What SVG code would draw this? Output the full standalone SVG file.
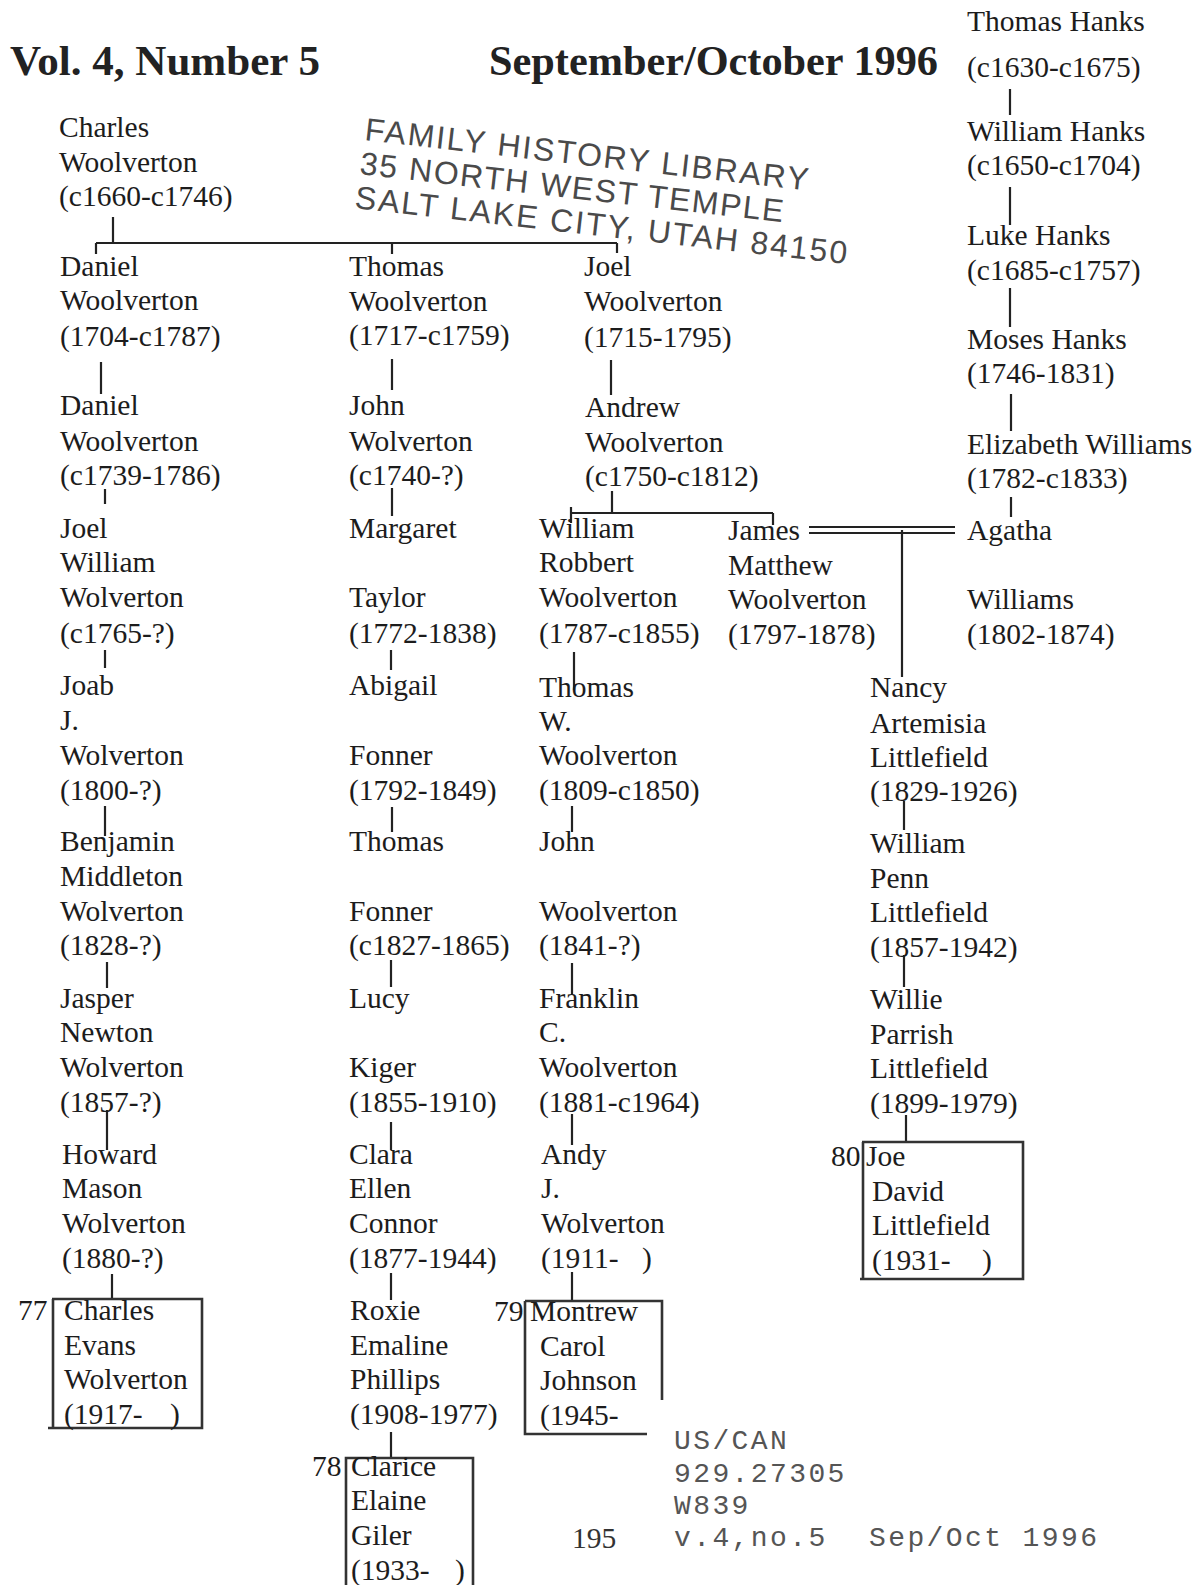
<svg xmlns="http://www.w3.org/2000/svg" width="1198" height="1585" viewBox="0 0 1198 1585">
<style>
.t{font-family:"Liberation Serif","Times New Roman",serif;font-size:29.5px;fill:#1c1c1c}
.h{font-family:"Liberation Serif","Times New Roman",serif;font-size:42px;font-weight:bold;fill:#222}
.m{font-family:"Liberation Mono","Courier New",monospace;font-size:28px;letter-spacing:2.4px;fill:#555}
.s{font-family:"Liberation Sans",Arial,sans-serif;font-size:32px;fill:#4a4a4a}
.c{stroke:#222;stroke-width:2.2;fill:none}
.b{stroke:#333;stroke-width:2.6;fill:none}
</style>
<rect width="1198" height="1585" fill="#fff"/>
<g id="header">
<text class="h" x="10" y="75" textLength="310" lengthAdjust="spacingAndGlyphs">Vol. 4, Number 5</text>
<text class="h" x="489" y="75" textLength="449" lengthAdjust="spacingAndGlyphs">September/October 1996</text>
</g>
<g id="stamp">
<text class="s" x="364" y="140" transform="rotate(6.5 364 140)" textLength="446" lengthAdjust="spacing">FAMILY HISTORY LIBRARY</text>
<text class="s" x="359" y="174" transform="rotate(6.5 359 174)" textLength="426" lengthAdjust="spacing">35 NORTH WEST TEMPLE</text>
<text class="s" x="354" y="208" transform="rotate(6.5 354 208)" textLength="495" lengthAdjust="spacing">SALT LAKE CITY, UTAH 84150</text>
</g>
<g id="connectors">
<path class="c" d="M113 217V243M96 243H617M96 243V254M392 243V254M617 243V253"/>
<path class="c" d="M101 362V394M105 489V504M105 650V668M105 806V836M107 962V988M107 1110V1150M112 1274V1300"/>
<path class="c" d="M392 359V390M392 488V516M391 650V670M392 807V832M391 960V987M391 1122V1150M391 1273V1300M391 1432V1458"/>
<path class="c" d="M611 360V395M612 491V513M571 513H773M571 507V523M773 513V525"/>
<path class="c" d="M574 652V690M572 806V832M572 963V994M572 1114V1145M572 1272V1302"/>
<path class="c" stroke-width="1.6" d="M809 527H955M809 533H955"/>
<path class="c" d="M902 530V677M1011 497V517M1010 89V115M1010 187V225M1010 288V327M1011 394V431"/>
<path class="c" d="M904 801V830M904 955V987M906 1115V1143"/>
</g>
<g id="n-thomas-hanks"><text class="t" x="967" y="31">Thomas Hanks</text><text class="t" x="967" y="77">(c1630-c1675)</text></g>
<g id="n-william-hanks"><text class="t" x="967" y="141">William Hanks</text><text class="t" x="967" y="175">(c1650-c1704)</text></g>
<g id="n-luke-hanks"><text class="t" x="967" y="245">Luke Hanks</text><text class="t" x="967" y="280">(c1685-c1757)</text></g>
<g id="n-moses-hanks"><text class="t" x="967" y="349">Moses Hanks</text><text class="t" x="967" y="383">(1746-1831)</text></g>
<g id="n-elizabeth-williams"><text class="t" x="967" y="454">Elizabeth Williams</text><text class="t" x="967" y="488">(1782-c1833)</text></g>
<g id="n-charles"><text class="t" x="59" y="137">Charles</text><text class="t" x="59" y="172">Woolverton</text><text class="t" x="59" y="206">(c1660-c1746)</text></g>
<g id="n-daniel1"><text class="t" x="60" y="276">Daniel</text><text class="t" x="60" y="310">Woolverton</text><text class="t" x="60" y="346">(1704-c1787)</text></g>
<g id="n-thomas1"><text class="t" x="349" y="276">Thomas</text><text class="t" x="349" y="311">Woolverton</text><text class="t" x="349" y="345">(1717-c1759)</text></g>
<g id="n-joel1"><text class="t" x="584" y="276">Joel</text><text class="t" x="584" y="311">Woolverton</text><text class="t" x="584" y="347">(1715-1795)</text></g>
<g id="n-daniel2"><text class="t" x="60" y="415">Daniel</text><text class="t" x="60" y="451">Woolverton</text><text class="t" x="60" y="485">(c1739-1786)</text></g>
<g id="n-john1"><text class="t" x="349" y="415">John</text><text class="t" x="349" y="451">Wolverton</text><text class="t" x="349" y="485">(c1740-?)</text></g>
<g id="n-andrew"><text class="t" x="585" y="417">Andrew</text><text class="t" x="585" y="452">Woolverton</text><text class="t" x="585" y="486">(c1750-c1812)</text></g>
<g id="n-joel2"><text class="t" x="60" y="538">Joel</text><text class="t" x="60" y="572">William</text><text class="t" x="60" y="607">Wolverton</text><text class="t" x="60" y="643">(c1765-?)</text></g>
<g id="n-margaret"><text class="t" x="349" y="538">Margaret</text><text class="t" x="349" y="607">Taylor</text><text class="t" x="349" y="643">(1772-1838)</text></g>
<g id="n-william-robbert"><text class="t" x="539" y="538">William</text><text class="t" x="539" y="572">Robbert</text><text class="t" x="539" y="607">Woolverton</text><text class="t" x="539" y="643">(1787-c1855)</text></g>
<g id="n-james"><text class="t" x="728" y="540">James</text><text class="t" x="728" y="575">Matthew</text><text class="t" x="728" y="609">Woolverton</text><text class="t" x="728" y="644">(1797-1878)</text></g>
<g id="n-agatha"><text class="t" x="967" y="540">Agatha</text><text class="t" x="967" y="609">Williams</text><text class="t" x="967" y="644">(1802-1874)</text></g>
<g id="n-joab"><text class="t" x="60" y="695">Joab</text><text class="t" x="60" y="730">J.</text><text class="t" x="60" y="765">Wolverton</text><text class="t" x="60" y="800">(1800-?)</text></g>
<g id="n-abigail"><text class="t" x="349" y="695">Abigail</text><text class="t" x="349" y="765">Fonner</text><text class="t" x="349" y="800">(1792-1849)</text></g>
<g id="n-thomas-w"><text class="t" x="539" y="697">Thomas</text><text class="t" x="539" y="731">W.</text><text class="t" x="539" y="765">Woolverton</text><text class="t" x="539" y="800">(1809-c1850)</text></g>
<g id="n-nancy"><text class="t" x="870" y="697">Nancy</text><text class="t" x="870" y="733">Artemisia</text><text class="t" x="870" y="767">Littlefield</text><text class="t" x="870" y="801">(1829-1926)</text></g>
<g id="n-benjamin"><text class="t" x="60" y="851">Benjamin</text><text class="t" x="60" y="886">Middleton</text><text class="t" x="60" y="921">Wolverton</text><text class="t" x="60" y="955">(1828-?)</text></g>
<g id="n-thomas-fonner"><text class="t" x="349" y="851">Thomas</text><text class="t" x="349" y="921">Fonner</text><text class="t" x="349" y="955">(c1827-1865)</text></g>
<g id="n-john2"><text class="t" x="539" y="851">John</text><text class="t" x="539" y="921">Woolverton</text><text class="t" x="539" y="955">(1841-?)</text></g>
<g id="n-william-penn"><text class="t" x="870" y="853">William</text><text class="t" x="870" y="888">Penn</text><text class="t" x="870" y="922">Littlefield</text><text class="t" x="870" y="957">(1857-1942)</text></g>
<g id="n-jasper"><text class="t" x="60" y="1008">Jasper</text><text class="t" x="60" y="1042">Newton</text><text class="t" x="60" y="1077">Wolverton</text><text class="t" x="60" y="1112">(1857-?)</text></g>
<g id="n-lucy"><text class="t" x="349" y="1008">Lucy</text><text class="t" x="349" y="1077">Kiger</text><text class="t" x="349" y="1112">(1855-1910)</text></g>
<g id="n-franklin"><text class="t" x="539" y="1008">Franklin</text><text class="t" x="539" y="1042">C.</text><text class="t" x="539" y="1077">Woolverton</text><text class="t" x="539" y="1112">(1881-c1964)</text></g>
<g id="n-willie"><text class="t" x="870" y="1009">Willie</text><text class="t" x="870" y="1044">Parrish</text><text class="t" x="870" y="1078">Littlefield</text><text class="t" x="870" y="1113">(1899-1979)</text></g>
<g id="n-howard"><text class="t" x="62" y="1164">Howard</text><text class="t" x="62" y="1198">Mason</text><text class="t" x="62" y="1233">Wolverton</text><text class="t" x="62" y="1268">(1880-?)</text></g>
<g id="n-clara"><text class="t" x="349" y="1164">Clara</text><text class="t" x="349" y="1198">Ellen</text><text class="t" x="349" y="1233">Connor</text><text class="t" x="349" y="1268">(1877-1944)</text></g>
<g id="n-andy"><text class="t" x="541" y="1164">Andy</text><text class="t" x="541" y="1198">J.</text><text class="t" x="541" y="1233">Wolverton</text><text class="t" x="541" y="1268">(1911-<tspan x="642">)</tspan></text></g>
<g id="n-joe"><path class="b" d="M862 1142H1023V1279H860M863 1142V1279"/><text class="t" x="831" y="1166">80</text><text class="t" x="866" y="1166">Joe</text><text class="t" x="872" y="1201">David</text><text class="t" x="872" y="1235">Littlefield</text><text class="t" x="872" y="1270">(1931-<tspan x="982">)</tspan></text></g>
<g id="n-charles2"><path class="b" d="M52 1299H202V1428H48M53 1299V1427"/><text class="t" x="18" y="1320">77</text><text class="t" x="64" y="1320">Charles</text><text class="t" x="64" y="1355">Evans</text><text class="t" x="64" y="1389">Wolverton</text><text class="t" x="64" y="1424">(1917-<tspan x="170">)</tspan></text></g>
<g id="n-roxie"><text class="t" x="350" y="1320">Roxie</text><text class="t" x="350" y="1355">Emaline</text><text class="t" x="350" y="1389">Phillips</text><text class="t" x="350" y="1424">(1908-1977)</text></g>
<g id="n-montrew"><path class="b" d="M525 1301H662V1400M525 1301V1434H647"/><text class="t" x="494" y="1321">79</text><text class="t" x="530" y="1321">Montrew</text><text class="t" x="540" y="1356">Carol</text><text class="t" x="540" y="1390">Johnson</text><text class="t" x="540" y="1425">(1945-</text></g>
<g id="n-clarice"><path class="b" d="M346 1585V1458H473V1585"/><text class="t" x="312" y="1476">78</text><text class="t" x="351" y="1476">Clarice</text><text class="t" x="351" y="1510">Elaine</text><text class="t" x="351" y="1545">Giler</text><text class="t" x="351" y="1580">(1933-<tspan x="455">)</tspan></text></g>
<g id="footer">
<text class="t" x="572" y="1548" style="fill:#333">195</text>
<text class="m" x="674" y="1449">US/CAN</text>
<text class="m" x="674" y="1482">929.27305</text>
<text class="m" x="674" y="1514">W839</text>
<text class="m" x="674" y="1546">v.4,no.5</text>
<text class="m" x="869" y="1546">Sep/Oct 1996</text>
</g>
</svg>
